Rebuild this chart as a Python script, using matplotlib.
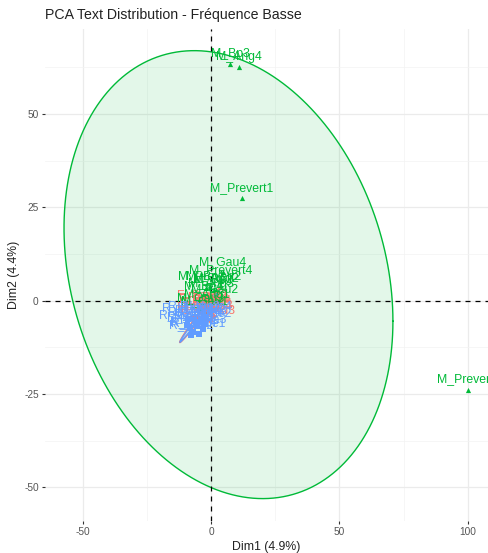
import numpy as np
import matplotlib
matplotlib.use("Agg")
import matplotlib.pyplot as plt

plt.rcParams['font.family'] = ['Liberation Sans', 'DejaVu Sans']
plt.rcParams['axes.unicode_minus'] = False

# ---------------- data ----------------
title = "PCA Text Distribution - Fréquence Basse"
xlabel = "Dim1 (4.9%)"
ylabel = "Dim2 (4.4%)"

groups = ["F", "M", "R"]
group_colors = {"F": "#F8766D", "M": "#00BA38", "R": "#619CFF"}
group_markers = {"F": "o", "M": "^", "R": "s"}

# group F (red)
f_names = ["F_Bal1", "F_Bal2", "F_Bal3", "F_Bal4", "F_Col1", "F_Col2", "F_Col3",
           "F_Col4", "F_Sand1", "F_Sand2", "F_Sand3", "F_Sand4"]
f_x = [-4.8, -1.5, -3.0, 0.2, -5.5, -2.2, 0.6, -4.0, -1.0, -3.6, -0.5, -2.8]
f_y = [-2.0, -1.8, -3.2, -2.6, -4.4, -4.8, -4.0, -5.4, -3.4, -1.4, -5.2, -2.4]

# group M (green)
m_names = ["M_Bp1", "M_Bp2", "M_Bp3", "M_Bp4", "M_Ang1", "M_Ang2", "M_Ang3", "M_Ang4",
           "M_Gau1", "M_Gau2", "M_Gau3", "M_Gau4",
           "M_Prevert1", "M_Prevert2", "M_Prevert3", "M_Prevert4"]
m_x = [-2.0, 1.0, 7.4, -3.0, -1.5, 2.0, 0.0, 10.9, -2.5, 1.5, -4.0, 4.6, 11.9, -0.5, 100.1, 3.8]
m_y = [3.5, 2.8, 63.4, 0.8, -1.2, 3.0, 1.6, 62.5, -3.0, 0.2, -2.2, 7.6, 27.5, 3.8, -23.9, 5.4]

# group R (blue)
r_names = ["R_Hugo1", "R_Hugo2", "R_Hugo3", "R_Hugo4", "R_Zola1", "R_Zola2", "R_Zola3",
           "R_Zola4", "R_Verne1", "R_Verne2", "R_Verne3", "R_Verne4", "R_Sue1", "R_Sue2"]
r_x = [-9.0, -6.5, -4.0, -2.0, -8.0, -5.5, -3.0, -7.0, -4.8, -2.5, -9.5, -6.0, -3.5, -7.8]
r_y = [-5.0, -4.6, -5.6, -4.4, -7.2, -6.8, -7.6, -8.4, -8.8, -6.2, -6.6, -5.8, -4.8, -9.2]

# confidence ellipses per group: centre, half extent in x / y, correlation
ell_cx = {"F": -4.2, "M": 6.8, "R": -4.5}
ell_cy = {"F": -3.8, "M": 7.0, "R": -4.2}
ell_sx = {"F": 8.0, "M": 64.0, "R": 7.6}
ell_sy = {"F": 7.4, "M": 60.0, "R": 6.9}
ell_rho = {"F": 0.99, "M": -0.208, "R": 0.995}

data = {
    "F": (f_names, f_x, f_y),
    "M": (m_names, m_x, m_y),
    "R": (r_names, r_x, r_y),
}

# ---------------- figure ----------------
W, H = 489, 553
fig = plt.figure(figsize=(W / 100, H / 100), dpi=100)
ax = fig.add_axes([45 / W, 1 - 521 / H, (488 - 45) / W, (521 - 29) / H])

ax.set_xlim(-64.6, 107.8)
ax.set_ylim(-59.0, 72.8)

for s in ax.spines.values():
    s.set_visible(False)

ax.set_xticks([-50, 0, 50, 100])
ax.set_yticks([-50, -25, 0, 25, 50])
ax.set_xticks([-25, 25, 75], minor=True)
ax.set_yticks([-37.5, -12.5, 12.5, 37.5, 62.5], minor=True)
ax.grid(True, which="major", color="#EBEBEB", lw=0.9, zorder=0)
ax.grid(True, which="minor", color="#F3F3F3", lw=0.5, zorder=0)
ax.set_axisbelow(True)
ax.tick_params(which="major", length=2.5, width=0.8, color="#333333",
               labelsize=7.3, labelcolor="#555555", pad=2)
ax.tick_params(which="minor", length=0)

ax.set_xlabel(xlabel, fontsize=8.8, color="#222222", labelpad=3)
ax.set_ylabel(ylabel, fontsize=8.8, color="#222222", labelpad=3)
fig.text(45 / W, 1 - 15 / H, title, fontsize=10.2, color="#222222",
         ha="left", va="center")

# ellipses
t = np.linspace(0, 2 * np.pi, 200)
for g in groups:
    c = group_colors[g]
    ex = ell_cx[g] + ell_sx[g] * np.cos(t)
    ey = ell_cy[g] + ell_sy[g] * (ell_rho[g] * np.cos(t)
                                   + np.sqrt(1 - ell_rho[g] ** 2) * np.sin(t))
    ax.fill(ex, ey, color=c, alpha=0.11, lw=0, zorder=1)
    ax.plot(ex, ey, color=c, lw=1.0, zorder=2)

# reference lines
ax.axhline(0, color="black", lw=0.9, ls=(0, (4, 4)), zorder=3)
ax.axvline(0, color="black", lw=0.9, ls=(0, (4, 4)), zorder=3)

# points and labels
for g in groups:
    names, xs, ys = data[g]
    c = group_colors[g]
    ax.scatter(xs, ys, marker=group_markers[g], s=14, color=c, lw=0, zorder=4)
    for n, x, y in zip(names, xs, ys):
        ax.annotate(n, (x, y), xytext=(0, 3.2), textcoords="offset points",
                    ha="center", va="bottom", fontsize=8.8, color=c,
                    zorder=5, annotation_clip=True, clip_on=True)

fig.savefig("out.png", dpi=100)
